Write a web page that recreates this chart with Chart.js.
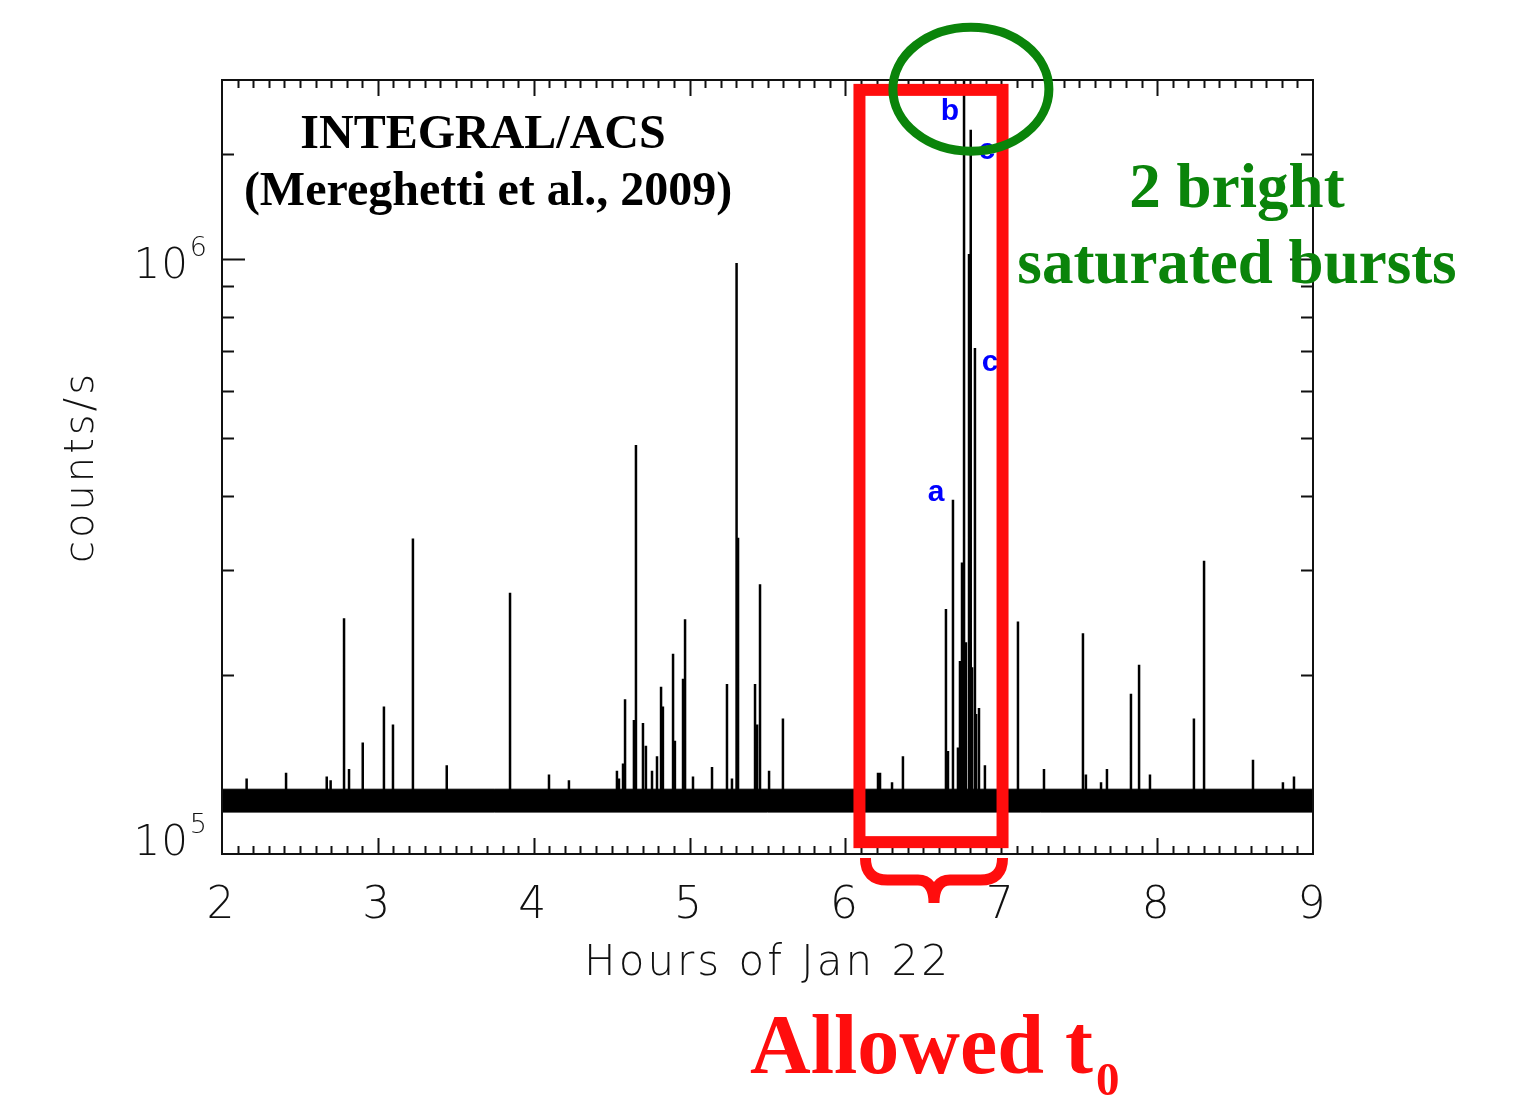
<!DOCTYPE html>
<html>
<head>
<meta charset="utf-8">
<script src="https://cdn.jsdelivr.net/npm/chart.js@4.4.1/dist/chart.umd.min.js"></script>
<style>
  html, body { margin: 0; padding: 0; background: #fff; }
  #wrap { position: relative; width: 1527px; height: 1106px; }
</style>
</head>
<body>
<div id="wrap"><canvas id="acs"></canvas></div>
<script>
// INTEGRAL/ACS light curve, Jan 22 (hours) - burst peaks
const spikeHours = [2.158, 2.411, 2.672, 2.697, 2.783, 2.815, 2.903, 3.039, 3.097, 3.225,
  3.442, 3.848, 4.098, 4.226, 4.534, 4.547, 4.573, 4.586, 4.643, 4.656,
  4.701, 4.720, 4.759, 4.791, 4.817, 4.829, 4.894, 4.906, 4.958, 4.971,
  5.022, 5.144, 5.240, 5.272, 5.298, 5.304, 5.311, 5.420, 5.433, 5.452,
  5.510, 5.599, 6.209, 6.222, 6.299, 6.369, 6.645, 6.658, 6.690, 6.722,
  6.735, 6.748, 6.761, 6.773, 6.793, 6.804, 6.812, 6.831, 6.838, 6.857,
  6.895, 7.107, 7.274, 7.524, 7.543, 7.640, 7.678, 7.832, 7.884, 7.954,
  8.236, 8.301, 8.615, 8.807, 8.878];
const spikePeaks = [1.34e5, 1.37e5, 1.35e5, 1.33e5, 2.49e5, 1.39e5, 1.54e5, 1.77e5, 1.65e5, 3.39e5,
  1.41e5, 2.75e5, 1.36e5, 1.33e5, 1.38e5, 1.34e5, 1.42e5, 1.82e5, 1.68e5, 4.87e5,
  1.66e5, 1.52e5, 1.38e5, 1.46e5, 1.91e5, 1.77e5, 2.17e5, 1.55e5, 1.97e5, 2.48e5,
  1.35e5, 1.40e5, 1.93e5, 1.34e5, 9.85e5, 4.86e5, 3.40e5, 1.93e5, 1.65e5, 2.84e5,
  1.38e5, 1.69e5, 1.37e5, 1.37e5, 1.32e5, 1.46e5, 2.58e5, 1.49e5, 3.94e5, 1.51e5,
  2.11e5, 3.09e5, 2.0e6, 2.27e5, 1.02e6, 1.65e6, 2.06e5, 7.09e5, 1.72e5, 1.76e5,
  1.41e5, 2.46e5, 1.39e5, 2.35e5, 1.36e5, 1.32e5, 1.39e5, 1.86e5, 2.08e5, 1.36e5,
  1.69e5, 3.11e5, 1.44e5, 1.32e5, 1.35e5];
const spikeBase = 1.2e5;

// background noise band
const bandHours = [2, 9];
const bandUpper = [1.285e5, 1.285e5];
const bandLower = [1.176e5, 1.176e5];

// burst labels
const markText = ["a", "b", "c", "c"];
const markHours = [6.581, 6.671, 6.928, 6.908];
const markCounts = [4.05e5, 1.77e6, 6.69e5, 1.52e6];

// allowed t0 window and the two saturated bursts
const allowedHours = [6.09, 7.008];
const allowedCounts = [1.047e5, 1.925e6];
const brightCenter = [6.805, 1.93e6];

const spikePoints = [];
spikeHours.forEach((h, i) => {
  spikePoints.push({ x: h, y: spikeBase }, { x: h, y: spikePeaks[i] }, { x: h, y: spikeBase });
});

const AXIS_FONT = '"DejaVu Sans", sans-serif';
const SERIF = '"Liberation Serif", "Times New Roman", serif';

const overlay = {
  id: "overlay",
  beforeDraw(chart) {
    chart.ctx.letterSpacing = "3px";
  },
  afterDraw(chart) {
    const { ctx, chartArea: a, scales: { x, y } } = chart;
    ctx.save();
    ctx.letterSpacing = "0px";

    // frame + inward ticks
    ctx.strokeStyle = "#111";
    ctx.lineWidth = 2;
    ctx.strokeRect(a.left, a.top, a.right - a.left, a.bottom - a.top);
    ctx.beginPath();
    x.ticks.forEach((t) => {
      const px = Math.round(x.getPixelForValue(t.value)) + 0.5;
      if (px <= a.left + 1 || px >= a.right - 1) return;
      const len = Math.abs(t.value - Math.round(t.value)) < 1e-6 ? 16 : 8;
      ctx.moveTo(px, a.bottom); ctx.lineTo(px, a.bottom - len);
      ctx.moveTo(px, a.top); ctx.lineTo(px, a.top + len);
    });
    y.ticks.forEach((t) => {
      const py = Math.round(y.getPixelForValue(t.value)) + 0.5;
      if (py <= a.top + 1 || py >= a.bottom - 1) return;
      const e = Math.log10(t.value);
      const len = Math.abs(e - Math.round(e)) < 1e-6 ? 23 : 12;
      ctx.moveTo(a.left, py); ctx.lineTo(a.left + len, py);
      ctx.moveTo(a.right, py); ctx.lineTo(a.right - len, py);
    });
    ctx.stroke();

    // y labels 10^n
    ctx.fillStyle = "#111";
    ctx.letterSpacing = "1px";
    y.ticks.forEach((t) => {
      const e = Math.log10(t.value);
      if (Math.abs(e - Math.round(e)) > 1e-6) return;
      const py = y.getPixelForValue(t.value);
      const base = py >= a.bottom - 2 ? a.bottom + 1 : py + 19;
      ctx.textAlign = "right";
      ctx.textBaseline = "alphabetic";
      ctx.font = "300 27px " + AXIS_FONT;
      ctx.fillText(String(Math.round(e)), a.left - 14, base - 22);
      ctx.font = "300 42px " + AXIS_FONT;
      ctx.fillText("10", a.left - 33, base);
    });
    ctx.letterSpacing = "0px";

    // burst labels
    ctx.fillStyle = "#0000ff";
    ctx.font = "bold 30px Arial, \"Liberation Sans\", sans-serif";
    ctx.textAlign = "center";
    ctx.textBaseline = "middle";
    markText.forEach((s, i) => {
      ctx.fillText(s, x.getPixelForValue(markHours[i]), y.getPixelForValue(markCounts[i]));
    });

    // allowed window
    const rl = x.getPixelForValue(allowedHours[0]);
    const rr = x.getPixelForValue(allowedHours[1]);
    const rb = y.getPixelForValue(allowedCounts[0]);
    const rt = y.getPixelForValue(allowedCounts[1]);
    ctx.strokeStyle = "#ff0d0d";
    ctx.lineWidth = 12;
    ctx.strokeRect(rl, rt, rr - rl, rb - rt);

    // green ellipse around the saturated bursts
    ctx.strokeStyle = "#0a840a";
    ctx.lineWidth = 9;
    ctx.beginPath();
    ctx.ellipse(x.getPixelForValue(brightCenter[0]), y.getPixelForValue(brightCenter[1]), 78, 62, 0, 0, Math.PI * 2);
    ctx.stroke();

    // curly brace under the window
    const bl = rl + 6, br = rr, bm = (bl + br) / 2;
    const top = a.bottom + 4, mid = a.bottom + 26, tip = a.bottom + 49;
    ctx.strokeStyle = "#ff0d0d";
    ctx.lineWidth = 11;
    ctx.lineCap = "butt";
    ctx.beginPath();
    ctx.moveTo(bl, top);
    ctx.quadraticCurveTo(bl, mid, bl + 22, mid);
    ctx.lineTo(bm - 16, mid);
    ctx.quadraticCurveTo(bm, mid, bm, tip);
    ctx.quadraticCurveTo(bm, mid, bm + 16, mid);
    ctx.lineTo(br - 22, mid);
    ctx.quadraticCurveTo(br, mid, br, top);
    ctx.stroke();

    // text annotations
    ctx.textBaseline = "alphabetic";
    ctx.textAlign = "center";
    ctx.fillStyle = "#000";
    ctx.font = "bold 48px " + SERIF;
    ctx.fillText("INTEGRAL/ACS", 483, 148);
    ctx.fillText("(Mereghetti et al., 2009)", 488, 205);

    ctx.fillStyle = "#0a840a";
    ctx.font = "bold 63px " + SERIF;
    ctx.fillText("2 bright", 1237, 207);
    ctx.fillText("saturated bursts", 1237, 283);

    ctx.fillStyle = "#ff0d0d";
    ctx.textAlign = "left";
    ctx.font = "bold 84px " + SERIF;
    ctx.fillText("Allowed t", 750, 1073);
    const w = ctx.measureText("Allowed t").width;
    ctx.font = "bold 47px " + SERIF;
    ctx.fillText("0", 750 + w + 3, 1095);

    ctx.restore();
  },
};

new Chart(document.getElementById("acs"), {
  type: "line",
  data: {
    datasets: [
      {
        data: bandHours.map((h, i) => ({ x: h, y: bandLower[i] })),
        borderColor: "#000",
        borderWidth: 1,
        pointRadius: 0,
        fill: false,
      },
      {
        data: bandHours.map((h, i) => ({ x: h, y: bandUpper[i] })),
        borderColor: "#000",
        backgroundColor: "#000",
        borderWidth: 1,
        pointRadius: 0,
        fill: "-1",
      },
      {
        data: spikePoints,
        borderColor: "#000",
        borderWidth: 2.5,
        pointRadius: 0,
        tension: 0,
        fill: false,
      },
    ],
  },
  options: {
    responsive: true,
    maintainAspectRatio: false,
    animation: false,
    layout: { padding: { left: 0, top: 80, right: 214, bottom: 0 } },
    plugins: { legend: { display: false }, tooltip: { enabled: false } },
    scales: {
      x: {
        type: "linear",
        min: 2,
        max: 9,
        afterFit: (s) => { s.height = 252; },
        grid: { display: false, drawTicks: false },
        border: { display: false },
        ticks: {
          stepSize: 0.1,
          autoSkip: false,
          maxRotation: 0,
          padding: 26,
          color: "#111",
          font: { family: AXIS_FONT, size: 44, weight: "300" },
          callback: (v) => (Math.abs(v - Math.round(v)) < 1e-6 ? String(Math.round(v)) : ""),
        },
        title: {
          display: true,
          text: "Hours of Jan 22",
          color: "#111",
          font: { family: AXIS_FONT, size: 42, weight: "300" },
          padding: { top: 0, bottom: 117 },
        },
      },
      y: {
        type: "logarithmic",
        min: 1e5,
        max: 2e6,
        afterFit: (s) => { s.width = 222; },
        grid: { display: false, drawTicks: false },
        border: { display: false },
        ticks: { display: false },
        title: {
          display: true,
          text: "counts/s",
          color: "#111",
          font: { family: AXIS_FONT, size: 40, weight: "300" },
          padding: { top: 59, bottom: 0 },
        },
      },
    },
  },
  plugins: [overlay],
});
</script>
</body>
</html>
